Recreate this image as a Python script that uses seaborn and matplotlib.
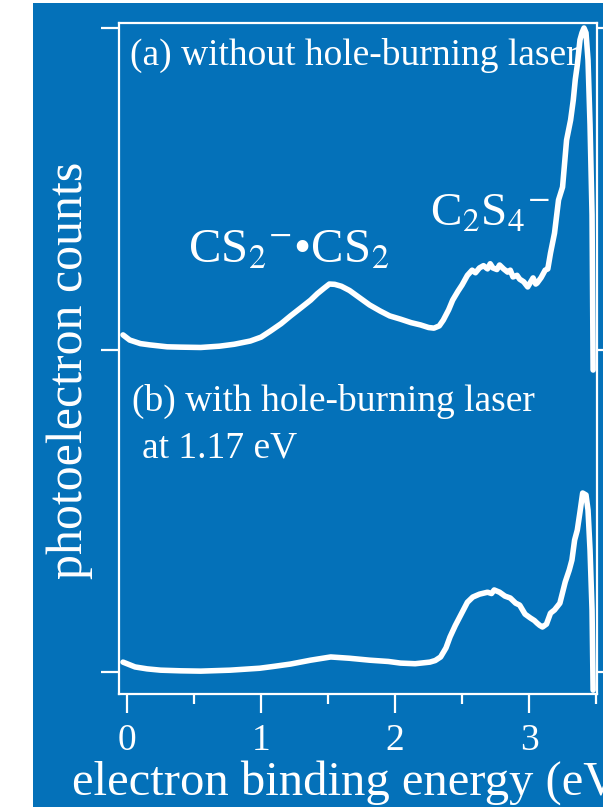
import numpy as np
import pandas as pd
import matplotlib
matplotlib.use("Agg")
import matplotlib.pyplot as plt
import seaborn as sns
from matplotlib.patches import Rectangle
from matplotlib.ticker import MultipleLocator

# ---------------- data ----------------
energy_a = [-0.03, 0.02, 0.10, 0.17, 0.30, 0.40, 0.55, 0.69, 0.80, 0.92, 1.00, 1.07, 1.15,
            1.22, 1.30, 1.37, 1.42, 1.47, 1.51, 1.55, 1.60, 1.66, 1.74, 1.81,
            1.89, 1.96, 2.04, 2.12, 2.19, 2.25, 2.29, 2.33, 2.36, 2.40, 2.43, 2.47,
            2.50, 2.54, 2.575, 2.60, 2.63, 2.66, 2.69, 2.71, 2.73, 2.76, 2.78,
            2.81, 2.84, 2.86, 2.88, 2.91, 2.93, 2.96, 2.99, 3.01, 3.03, 3.05, 3.06,
            3.09, 3.12, 3.14, 3.16, 3.19, 3.22, 3.25, 3.28, 3.31, 3.33, 3.345,
            3.36, 3.38, 3.395, 3.41, 3.425, 3.44, 3.455, 3.47, 3.478]
counts_a = [0.047, 0.031, 0.020, 0.016, 0.010, 0.009, 0.008, 0.012, 0.018, 0.028, 0.040, 0.059, 0.082,
            0.106, 0.132, 0.155, 0.175, 0.192, 0.205, 0.204, 0.198, 0.185, 0.161, 0.140,
            0.121, 0.106, 0.096, 0.085, 0.078, 0.070, 0.068, 0.075, 0.093, 0.125, 0.155, 0.183,
            0.202, 0.232, 0.248, 0.240, 0.255, 0.262, 0.252, 0.268, 0.255, 0.250, 0.264,
            0.252, 0.242, 0.248, 0.227, 0.232, 0.220, 0.212, 0.196, 0.210, 0.224, 0.205, 0.208,
            0.225, 0.248, 0.252, 0.301, 0.363, 0.466, 0.506, 0.652, 0.714, 0.776, 0.840,
            0.885, 0.963, 0.985, 1.000, 0.985, 0.900, 0.700, 0.420, -0.062]

energy_b = [-0.03, 0.06, 0.15, 0.25, 0.40, 0.55, 0.77, 0.99, 1.10, 1.22, 1.37, 1.52, 1.66, 1.81,
            1.95, 2.04, 2.15, 2.26, 2.30, 2.34, 2.38, 2.41, 2.45, 2.49, 2.54, 2.58,
            2.63, 2.66, 2.69, 2.72, 2.74, 2.78, 2.82, 2.86, 2.90, 2.93, 2.97, 3.01,
            3.04, 3.06, 3.08, 3.10, 3.13, 3.16, 3.19, 3.23, 3.27, 3.30, 3.32, 3.34,
            3.36, 3.38, 3.40, 3.425, 3.44, 3.455, 3.47, 3.478]
counts_b = [0.031, 0.016, 0.010, 0.006, 0.004, 0.003, 0.006, 0.012, 0.018, 0.025, 0.037, 0.047, 0.043,
            0.037, 0.033, 0.028, 0.026, 0.031, 0.036, 0.047, 0.075, 0.109, 0.145, 0.177, 0.217,
            0.233, 0.242, 0.245, 0.248, 0.244, 0.255, 0.248, 0.236, 0.230, 0.214, 0.208,
            0.180, 0.168, 0.160, 0.152, 0.145, 0.140, 0.149, 0.183, 0.193, 0.214, 0.280,
            0.317, 0.348, 0.410, 0.441, 0.497, 0.556, 0.550, 0.503, 0.379, 0.193, -0.056]

offset_a = 1.0
x_ticks = [0, 1, 2, 3]
x_tick_labels = ["0", "1", "2", "3"]
y_ticks = [0, 1, 2]

BLUE = "#0471B9"
W = 603
H = 807

sns.set_theme(style="ticks")
plt.rcParams["font.family"] = ["Liberation Serif", "DejaVu Serif"]
plt.rcParams["mathtext.fontset"] = "stix"

fig = plt.figure(figsize=(W / 100, H / 100), dpi=100, facecolor="white")
fig.patches.append(Rectangle((33 / W, 0), 1, 804 / H, transform=fig.transFigure,
                             facecolor=BLUE, edgecolor="none", zorder=-5))

ax = fig.add_axes([119 / W, (H - 694) / H, (597 - 119) / W, (694 - 23) / H])
ax.set_zorder(2)
ax.set_facecolor(BLUE)

df_a = pd.DataFrame({"energy": energy_a, "counts": np.array(counts_a) + offset_a})
df_b = pd.DataFrame({"energy": energy_b, "counts": counts_b})
sns.lineplot(data=df_a, x="energy", y="counts", ax=ax, color="white", lw=4.0,
             sort=False, estimator=None)
sns.lineplot(data=df_b, x="energy", y="counts", ax=ax, color="white", lw=4.0,
             sort=False, estimator=None)

ax.set_xlim(-0.06, 3.507)
ax.set_ylim(-0.068, 2.0155)
ax.set_xticks(x_ticks)
ax.set_xticklabels(x_tick_labels)
ax.xaxis.set_minor_locator(MultipleLocator(0.5))
ax.set_yticks(y_ticks)
ax.set_yticklabels([])
ax.set_xlabel("")
ax.set_ylabel("")

for s in ax.spines.values():
    s.set_color("white")
    s.set_linewidth(1.6)
    s.set_visible(True)

ax.tick_params(axis="x", which="major", direction="out", length=14, width=1.6,
               color="white", labelcolor="white", labelsize=27, pad=7)
ax.tick_params(axis="x", which="minor", direction="out", length=7, width=1.6,
               color="white")
ax.tick_params(axis="y", which="major", direction="out", length=13, width=1.6,
               color="white", left=True, right=True, labelleft=False)


def ftext(x, y, s, **kw):
    fig.text(x / W, 1 - y / H, s, color="white", va="baseline", zorder=5, **kw)


ftext(130, 65, "(a) without hole-burning laser", fontsize=27)
ftext(132, 411, "(b) with hole-burning laser", fontsize=27)
ftext(142, 457, "at 1.17 eV", fontsize=27)
ftext(188, 262, r"CS$_2$$^{-}$•CS$_2$", fontsize=35)
ftext(430, 226, r"C$_2$S$_4$$^{-}$", fontsize=34)
ftext(72, 795, "electron binding energy (eV)", fontsize=35)
fig.text(70 / W, 1 - 370 / H, "photoelectron counts", color="white", fontsize=36,
         rotation=90, ha="center", va="center", zorder=5)

fig.savefig("out.png", dpi=100, facecolor="white")
